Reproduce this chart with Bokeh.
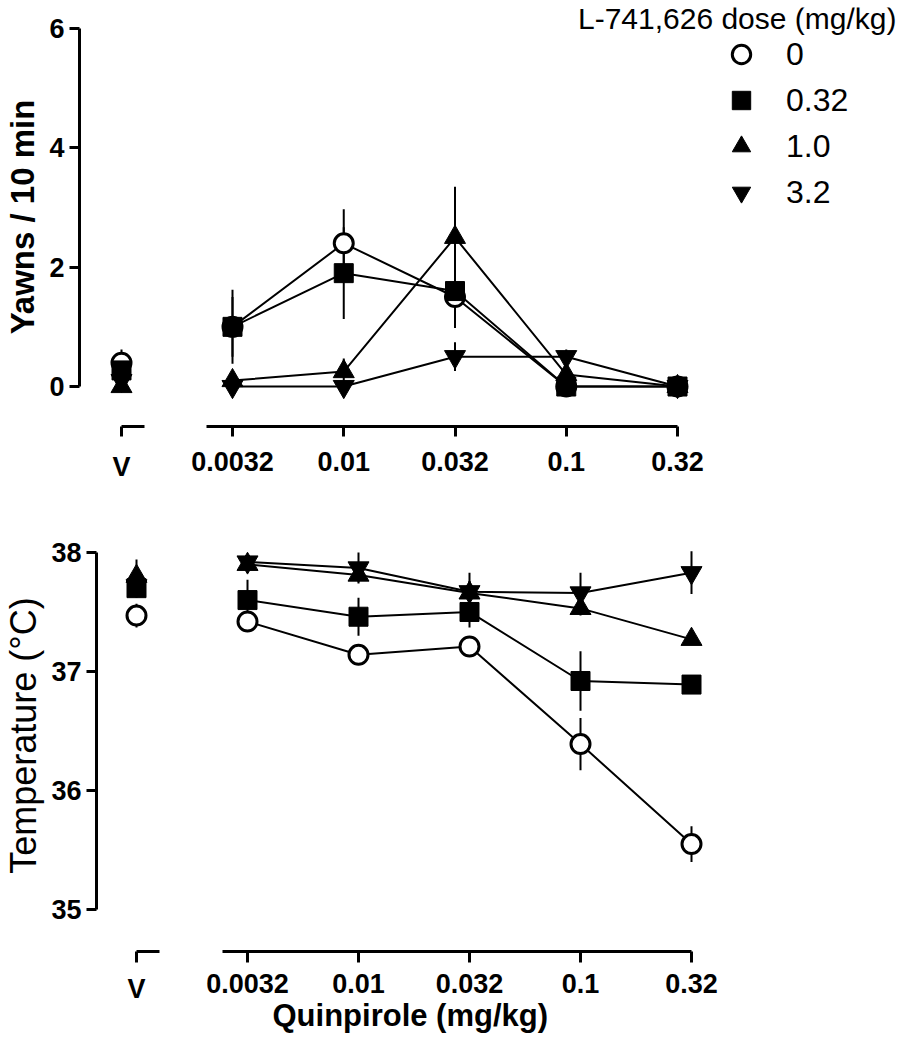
from bokeh.plotting import figure
from bokeh.layouts import column, row
from bokeh.models import Range1d, FixedTicker, Legend, LegendItem, Label, Title
from bokeh.embed import file_html
from bokeh.resources import INLINE

# ---------------- data ----------------
doses = ["0.0032", "0.01", "0.032", "0.1", "0.32"]
veh_label = "V"
groups = ["0", "0.32", "1.0", "3.2"]
markers = ["circle", "square", "triangle", "inverted_triangle"]

# Yawns / 10 min : vehicle value per group, then quinpirole doses
yawn_veh = [0.4, 0.27, 0.0, 0.1]
yawn_veh_sem = [0.22, 0.1, 0.0, 0.05]
yawn_0 = [1.0, 2.4, 1.5, 0.0, 0.0]
yawn_0_sem = [0.62, 0.57, 0.45, 0.0, 0.0]
yawn_032 = [1.0, 1.9, 1.6, 0.0, 0.0]
yawn_032_sem = [0.5, 0.77, 0.62, 0.0, 0.0]
yawn_10 = [0.1, 0.25, 2.5, 0.2, 0.0]
yawn_10_sem = [0.08, 0.22, 0.85, 0.12, 0.0]
yawn_32 = [0.0, 0.0, 0.5, 0.5, 0.0]
yawn_32_sem = [0.0, 0.0, 0.24, 0.12, 0.0]

# Temperature (deg C)
temp_veh = [37.47, 37.70, 37.80, 37.72]
temp_veh_sem = [0.1, 0.08, 0.14, 0.08]
temp_0 = [37.42, 37.14, 37.21, 36.39, 35.55]
temp_0_sem = [0.05, 0.05, 0.05, 0.22, 0.15]
temp_032 = [37.60, 37.46, 37.50, 36.92, 36.89]
temp_032_sem = [0.17, 0.16, 0.13, 0.25, 0.04]
temp_10 = [37.90, 37.81, 37.66, 37.53, 37.27]
temp_10_sem = [0.05, 0.06, 0.1, 0.06, 0.04]
temp_32 = [37.92, 37.87, 37.67, 37.66, 37.83]
temp_32_sem = [0.05, 0.13, 0.16, 0.17, 0.18]

yawn_series = [(yawn_0, yawn_0_sem), (yawn_032, yawn_032_sem),
               (yawn_10, yawn_10_sem), (yawn_32, yawn_32_sem)]
temp_series = [(temp_0, temp_0_sem), (temp_032, temp_032_sem),
               (temp_10, temp_10_sem), (temp_32, temp_32_sem)]

FONT = "Liberation Sans"
dose_pos = list(range(1, len(doses) + 1))


def style_common(p):
    p.outline_line_color = None
    p.xgrid.visible = False
    p.ygrid.visible = False
    p.background_fill_color = "white"
    p.border_fill_color = "white"


def style_axis(ax, tick_out=10):
    ax.axis_line_width = 3
    ax.axis_line_color = "black"
    ax.major_tick_line_width = 3
    ax.major_tick_line_color = "black"
    ax.major_tick_out = tick_out
    ax.major_tick_in = 0
    ax.minor_tick_line_color = None
    ax.major_label_text_font = FONT
    ax.major_label_text_font_style = "bold"
    ax.major_label_text_font_size = "27px"
    ax.major_label_text_color = "black"


def draw_errors(p, xs, ys, errs, with_line):
    lo = [y - e for y, e in zip(ys, errs)]
    hi = [y + e for y, e in zip(ys, errs)]
    p.segment(x0=xs, y0=lo, x1=xs, y1=hi, line_width=2, line_color="black")
    if with_line:
        p.line(xs, ys, line_width=2, line_color="black")


def add_markers(p, xs, ys, marker):
    if marker == "circle":
        return p.scatter(xs, ys, marker="circle", size=19, fill_color="white",
                         line_color="black", line_width=3)
    if marker == "square":
        return p.scatter(xs, ys, marker="square", size=19, fill_color="black",
                         line_color="black", line_width=1)
    return p.scatter(xs, ys, marker=marker, size=21, fill_color="black",
                     line_color="black", line_width=1)


def make_row(veh_vals, veh_sems, series, y_start, y_end, ybounds, yticks,
             ylabel, ylabel_style, ylabel_size, left_border, v_frame,
             v_range, main_range, main_width, height, top_border,
             bottom_border, main_bounds, v_bounds, ylab_standoff, tick_out,
             x_standoff):
    yr = Range1d(y_start, y_end)
    pv = figure(width=left_border + v_frame, height=height, x_range=Range1d(*v_range),
                y_range=yr, output_backend="svg", toolbar_location=None,
                min_border_left=left_border, min_border_right=0,
                min_border_top=top_border, min_border_bottom=bottom_border)
    pm = figure(width=main_width, height=height, x_range=Range1d(*main_range),
                y_range=yr, output_backend="svg", toolbar_location=None,
                y_axis_location=None,
                min_border_left=0, min_border_right=0,
                min_border_top=top_border, min_border_bottom=bottom_border)
    for p in (pv, pm):
        style_common(p)
        style_axis(p.xaxis[0], tick_out)
        p.xaxis[0].major_label_standoff = x_standoff
    # y axis
    ya = pv.yaxis[0]
    style_axis(ya, 10)
    ya.bounds = ybounds
    ya.ticker = FixedTicker(ticks=yticks)
    ya.major_label_standoff = 5
    ya.axis_label = ylabel
    ya.axis_label_text_font = FONT
    ya.axis_label_text_font_style = ylabel_style
    ya.axis_label_text_font_size = ylabel_size
    ya.axis_label_text_color = "black"
    ya.axis_label_standoff = ylab_standoff
    # V axis
    xa = pv.xaxis[0]
    xa.bounds = v_bounds
    xa.ticker = FixedTicker(ticks=[0])
    xa.major_label_overrides = {0: veh_label}
    # dose axis
    xm = pm.xaxis[0]
    xm.bounds = main_bounds
    xm.ticker = FixedTicker(ticks=dose_pos)
    xm.major_label_overrides = {i: d for i, d in zip(dose_pos, doses)}

    # error bars + lines first
    for k, (vals, sems) in enumerate(series):
        draw_errors(pm, dose_pos, vals, sems, True)
        draw_errors(pv, [0], [veh_vals[k]], [veh_sems[k]], False)
    rends = []
    for k, (vals, sems) in enumerate(series):
        r = add_markers(pm, dose_pos, vals, markers[k])
        add_markers(pv, [0], [veh_vals[k]], markers[k])
        rends.append(r)
    return pv, pm, rends


# ---------------- top row (yawns) ----------------
top_v, top_m, top_rends = make_row(
    yawn_veh, yawn_veh_sem, yawn_series,
    y_start=-0.670, y_end=6.352, ybounds=(0, 6), yticks=[0, 2, 4, 6],
    ylabel="Yawns / 10 min", ylabel_style="bold", ylabel_size="33px",
    left_border=79, v_frame=100, v_range=(-0.3775, 0.5213),
    main_range=(0.5236, 6.9685), main_width=717, height=489,
    top_border=7, bottom_border=63, main_bounds=(0.766, 5),
    v_bounds=(0, 0.207), ylab_standoff=5, tick_out=10, x_standoff=15)

legend = Legend(items=[LegendItem(label=g, renderers=[r]) for g, r in zip(groups, top_rends)],
                location="top_right", margin=24, padding=0, spacing=0,
                glyph_height=46, glyph_width=46, label_standoff=22, label_width=86,
                label_text_font=FONT, label_text_font_size="32px",
                label_text_color="black", border_line_color=None,
                background_fill_alpha=0)
top_m.add_layout(legend)

header = Label(x=top_m.x_range.end, y=top_m.y_range.end, y_offset=-11,
               text="L-741,626 dose (mg/kg)", text_align="right",
               text_baseline="alphabetic", text_font=FONT, text_font_size="30px",
               text_color="black")
top_m.add_layout(header)

# ---------------- bottom row (temperature) ----------------
bot_v, bot_m, _ = make_row(
    temp_veh, temp_veh_sem, temp_series,
    y_start=34.647, y_end=38.277, ybounds=(35, 38), yticks=[35, 36, 37, 38],
    ylabel="Temperature (\u00b0C)", ylabel_style="normal", ylabel_size="36px",
    left_border=96, v_frame=98, v_range=(-0.3604, 0.5225),
    main_range=(0.5225, 6.8468), main_width=702, height=545,
    top_border=30, bottom_border=83, main_bounds=(0.775, 5),
    v_bounds=(0, 0.207), ylab_standoff=4, tick_out=11, x_standoff=11)

bot_m.add_layout(Title(text="Quinpirole (mg/kg)", align="left", offset=78,
                       standoff=0, text_font=FONT, text_font_style="bold",
                       text_font_size="31px", text_color="black"), "below")

layout = column(row(top_v, top_m), row(bot_v, bot_m))

open("out.html", "w").write(file_html(layout, INLINE))
